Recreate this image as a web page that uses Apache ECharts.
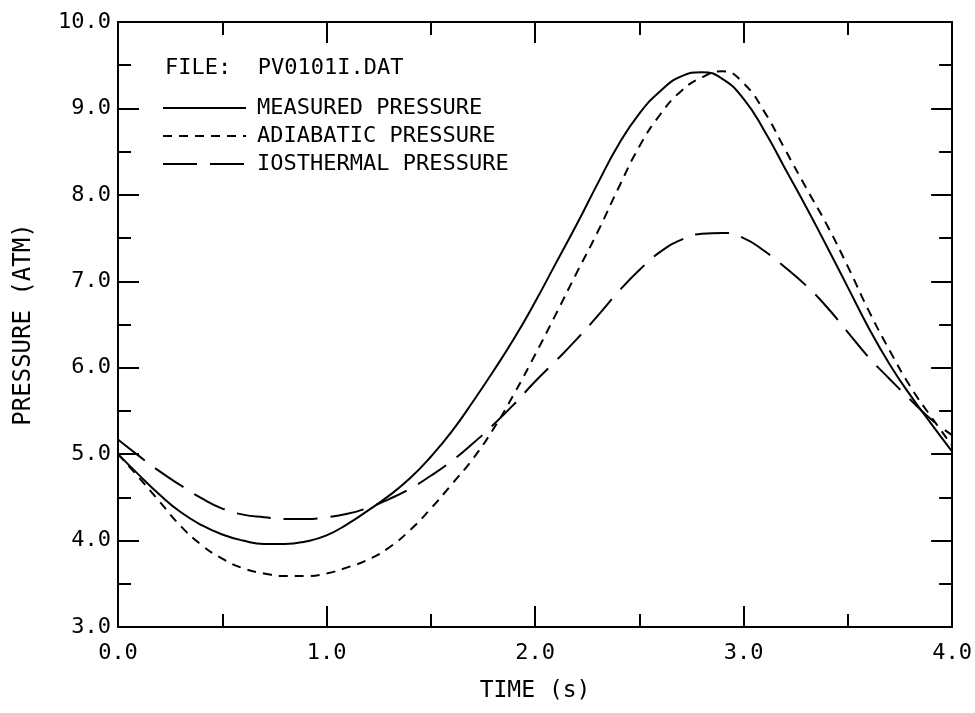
<!DOCTYPE html>
<html><head><meta charset="utf-8">
<script src="https://cdn.jsdelivr.net/npm/echarts@6/dist/echarts.min.js"></script>
<style>html,body{margin:0;padding:0;background:#fff}#c{width:975px;height:713px}</style>
</head><body><div id="c"></div>
<script>
const times = [0.0,0.1,0.2,0.3,0.4,0.5,0.6,0.7,0.8,0.9,1.0,1.1,1.2,1.3,1.4,1.5,1.6,1.7,1.8,1.9,2.0,
  2.1,2.2,2.3,2.4,2.5,2.6,2.7,2.8,2.9,3.0,3.1,3.2,3.3,3.4,3.5,3.6,3.7,3.8,3.9,4.0];
const measured = [5.00,4.76,4.53,4.33,4.18,4.07,4.00,3.96,3.96,3.99,4.06,4.19,4.35,4.52,4.72,4.97,5.26,5.60,5.96,6.34,6.76,
  7.21,7.66,8.13,8.58,8.94,9.20,9.37,9.42,9.34,9.11,8.74,8.30,7.86,7.40,6.93,6.46,6.04,5.68,5.35,5.03];
const adiabatic = [5.00,4.73,4.45,4.17,3.95,3.79,3.68,3.62,3.59,3.59,3.62,3.69,3.78,3.92,4.12,4.37,4.65,4.94,5.29,5.70,6.15,
  6.62,7.10,7.57,8.08,8.56,8.93,9.20,9.36,9.43,9.29,8.96,8.52,8.08,7.65,7.17,6.66,6.20,5.78,5.43,5.10];
const isothermal = [5.17,4.98,4.80,4.64,4.49,4.37,4.30,4.27,4.25,4.25,4.27,4.31,4.38,4.48,4.60,4.75,4.92,5.12,5.34,5.58,5.84,
  6.08,6.33,6.60,6.88,7.13,7.34,7.48,7.55,7.56,7.50,7.35,7.16,6.95,6.70,6.41,6.12,5.87,5.63,5.40,5.22];
const seriesNames = ['MEASURED PRESSURE','ADIABATIC PRESSURE','IOSTHERMAL PRESSURE'];
const xTickLabels = ['0.0','1.0','2.0','3.0','4.0'];
const yTickLabels = ['3.0','4.0','5.0','6.0','7.0','8.0','9.0','10.0'];
const fileLabel = 'FILE:  PV0101I.DAT';
const xTitle = 'TIME (s)';
const yTitle = 'PRESSURE (ATM)';

const FONT = '"DejaVu Sans Mono", monospace';
const pair = arr => times.map((t, i) => [t, arr[i]]);
const axisLine = {show: true, onZero: false, lineStyle: {color: '#000', width: 2}};
const majorTick = {show: true, inside: true, length: 21, lineStyle: {color: '#000', width: 2}};
const minorTick = {show: true, splitNumber: 2, length: 13, lineStyle: {color: '#000', width: 2}};

const chart = echarts.init(document.getElementById('c'), null, {renderer: 'canvas'});
chart.setOption({
  backgroundColor: '#fff',
  animation: false,
  title: {text: fileLabel, left: 165, top: 57, padding: 0,
    textStyle: {fontFamily: FONT, fontSize: 22, fontWeight: 'normal', color: '#000', lineHeight: 22}},
  legend: {
    orient: 'vertical', left: 162, top: 97, padding: 0, itemWidth: 83, itemHeight: 14, itemGap: 6,
    data: seriesNames,
    itemStyle: {opacity: 0, borderWidth: 0},
    textStyle: {fontFamily: FONT, fontSize: 22, color: '#000', lineHeight: 22, padding: [0,0,0,6]}
  },
  grid: {left: 118, right: 21, top: 22, bottom: 86},
  xAxis: [{
    type: 'value', min: 0, max: 4, interval: 1, position: 'bottom',
    axisLine, axisTick: majorTick, minorTick, splitLine: {show: false},
    axisLabel: {margin: 15, fontFamily: FONT, fontSize: 22, color: '#000',
      formatter: v => xTickLabels[Math.round(v)]},
    name: xTitle, nameLocation: 'middle', nameGap: 53,
    nameTextStyle: {fontFamily: FONT, fontSize: 23, color: '#000'}
  }, {
    type: 'value', min: 0, max: 4, interval: 1, position: 'top',
    axisLine, axisTick: majorTick, minorTick, splitLine: {show: false},
    axisLabel: {show: false}
  }],
  yAxis: [{
    type: 'value', min: 3, max: 10, interval: 1, position: 'left',
    axisLine, axisTick: majorTick, minorTick, splitLine: {show: false},
    axisLabel: {margin: 7, fontFamily: FONT, fontSize: 22, color: '#000',
      formatter: v => yTickLabels[Math.round(v) - 3]},
    name: yTitle, nameLocation: 'middle', nameGap: 82, nameRotate: 90,
    nameTextStyle: {fontFamily: FONT, fontSize: 24, color: '#000'}
  }, {
    type: 'value', min: 3, max: 10, interval: 1, position: 'right',
    axisLine, axisTick: majorTick, minorTick, splitLine: {show: false},
    axisLabel: {show: false}
  }],
  series: [
    {name: seriesNames[0], type: 'line', data: pair(measured), smooth: 0.5, symbol: 'none',
      lineStyle: {color: '#000', width: 2, type: 'solid'}, itemStyle: {color: '#000'}},
    {name: seriesNames[1], type: 'line', data: pair(adiabatic), smooth: 0.5, symbol: 'none',
      lineStyle: {color: '#000', width: 2, type: [9, 7]}, itemStyle: {color: '#000'}},
    {name: seriesNames[2], type: 'line', data: pair(isothermal), smooth: 0.5, symbol: 'none',
      lineStyle: {color: '#000', width: 2, type: [34, 13]}, itemStyle: {color: '#000'}}
  ]
});
</script></body></html>
